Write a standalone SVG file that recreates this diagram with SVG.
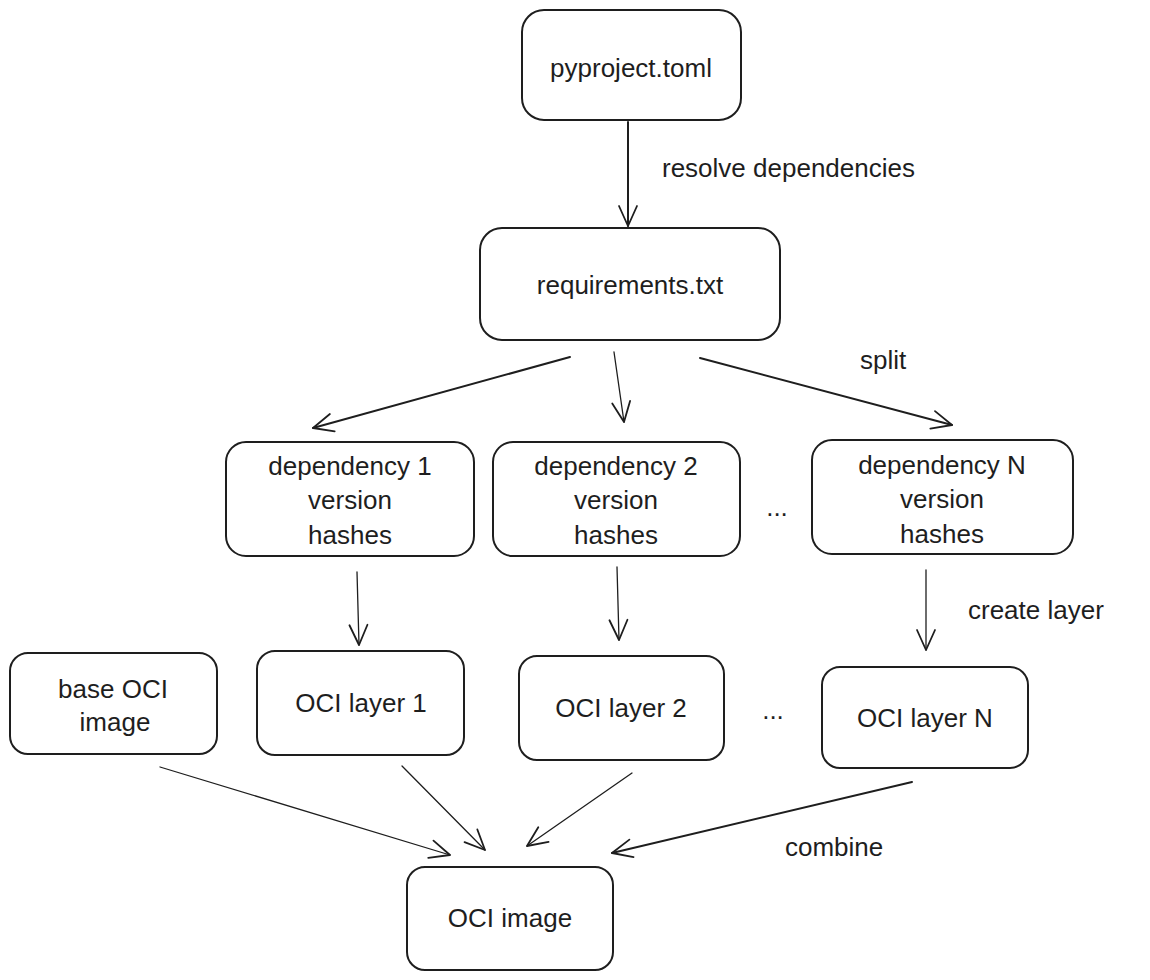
<svg xmlns="http://www.w3.org/2000/svg" width="1150" height="980" viewBox="0 0 1150 980">
<style>
.box{fill:#fff;stroke:#1e1e1e;stroke-width:2;}
.t{font-family:"Liberation Sans",Arial,sans-serif;font-size:26px;fill:#1e1e1e;text-anchor:middle;dominant-baseline:central;}
.l{font-family:"Liberation Sans",Arial,sans-serif;font-size:26px;fill:#1e1e1e;dominant-baseline:central;}
.c{stroke:#1e1e1e;fill:none;stroke-linecap:round;}
.w2{stroke-width:2;}
.w1{stroke-width:1.3;}
</style>
<defs>
<marker id="ah" viewBox="0 0 24 24" refX="22" refY="12" markerWidth="24" markerHeight="24" markerUnits="userSpaceOnUse" orient="auto">
<path d="M2,3 L22,12 L2,21" fill="none" stroke="#1e1e1e" stroke-width="1.8" stroke-linecap="round" stroke-linejoin="round"/>
</marker>
</defs>
<rect width="1150" height="980" fill="#fff"/>
<g id="connectors">
<line class="c w2" x1="628" y1="122" x2="628" y2="226" marker-end="url(#ah)"/>
<line class="c w2" x1="570" y1="357" x2="313" y2="428" marker-end="url(#ah)"/>
<line class="c w1" x1="614" y1="352" x2="624" y2="422" marker-end="url(#ah)"/>
<line class="c w2" x1="700" y1="358" x2="952" y2="425" marker-end="url(#ah)"/>
<line class="c w1" x1="357" y1="572" x2="359" y2="645" marker-end="url(#ah)"/>
<line class="c w1" x1="617" y1="567" x2="619" y2="640" marker-end="url(#ah)"/>
<line class="c w1" x1="926" y1="570" x2="926" y2="650" marker-end="url(#ah)"/>
<line class="c w1" x1="160" y1="767" x2="450" y2="855" marker-end="url(#ah)"/>
<line class="c w1" x1="402" y1="766" x2="485" y2="850" marker-end="url(#ah)"/>
<line class="c w1" x1="632" y1="773" x2="527" y2="846" marker-end="url(#ah)"/>
<line class="c w2" x1="912" y1="782" x2="612" y2="853" marker-end="url(#ah)"/>
<text class="l" x="662" y="168">resolve dependencies</text>
<text class="l" x="860" y="360">split</text>
<text class="l" x="968" y="610">create layer</text>
<text class="l" x="785" y="847">combine</text>
<text class="t" x="777" y="507">...</text>
<text class="t" x="773" y="710">...</text>
</g>
<g id="pyproject"><rect class="box" x="522" y="10" width="219" height="110" rx="22"/><text class="t" x="631" y="68">pyproject.toml</text></g>
<g id="requirements"><rect class="box" x="480" y="228" width="300" height="112" rx="22"/><text class="t" x="630" y="285">requirements.txt</text></g>
<g id="dep1"><rect class="box" x="226" y="442" width="248" height="114" rx="20"/><text class="t" x="350" y="466">dependency 1</text><text class="t" x="350" y="500">version</text><text class="t" x="350" y="535">hashes</text></g>
<g id="dep2"><rect class="box" x="493" y="442" width="247" height="114" rx="20"/><text class="t" x="616" y="466">dependency 2</text><text class="t" x="616" y="500">version</text><text class="t" x="616" y="535">hashes</text></g>
<g id="depN"><rect class="box" x="812" y="440" width="261" height="114" rx="20"/><text class="t" x="942" y="465">dependency N</text><text class="t" x="942" y="499">version</text><text class="t" x="942" y="534">hashes</text></g>
<g id="base"><rect class="box" x="10" y="653" width="207" height="101" rx="18"/><text class="t" x="113" y="689">base OCI</text><text class="t" x="115" y="722">image</text></g>
<g id="layer1"><rect class="box" x="257" y="651" width="207" height="104" rx="18"/><text class="t" x="361" y="703">OCI layer 1</text></g>
<g id="layer2"><rect class="box" x="519" y="656" width="205" height="104" rx="18"/><text class="t" x="621" y="708">OCI layer 2</text></g>
<g id="layerN"><rect class="box" x="822" y="667" width="206" height="101" rx="18"/><text class="t" x="925" y="718">OCI layer N</text></g>
<g id="image"><rect class="box" x="407" y="867" width="206" height="103" rx="18"/><text class="t" x="510" y="918">OCI image</text></g>
</svg>
